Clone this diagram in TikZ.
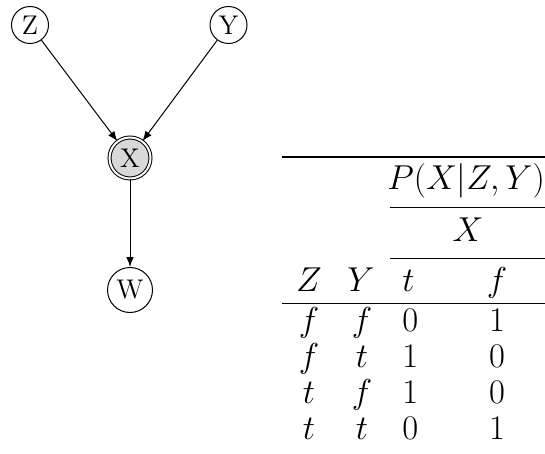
\documentclass[tikz,border=0pt]{standalone}
\usetikzlibrary{arrows.meta}
\begin{document}
\begin{tikzpicture}[x=0.5pt,y=-0.5pt,
  var/.style={circle,draw,line width=0.5pt,inner sep=0pt,minimum size=18.5pt,font=\fontsize{13.5}{16}\selectfont},
  obs/.style={var,fill=gray!30,double,double distance=1pt,minimum size=20.5pt},
  edge/.style={line width=0.5pt,-{Latex[length=5pt,width=3.8pt]}},
  cell/.style={anchor=base,inner sep=0pt,font=\fontsize{16.5}{20}\selectfont},
  lcell/.style={cell,anchor=base west},
  heavyrule/.style={line width=1.2pt},
  lightrule/.style={line width=0.6pt}]
\useasboundingbox (0,0) rectangle (545,454);
% graph
\node[var] (Z) at (30,25) {Z};
\node[var] (Y) at (228.5,25) {Y};
\node[obs] (X) at (130,158) {X};
\node[var,minimum size=22.5pt] (W) at (130,290) {W};
\draw[edge] (Z) -- (X);
\draw[edge] (Y) -- (X);
\draw[edge] (X) -- (W);
% table rules
\coordinate (tl) at (282,157);  \coordinate (tr) at (545,157);
\coordinate (c1l) at (390,207.5); \coordinate (c1r) at (545,207.5);
\coordinate (c2l) at (390,258.3); \coordinate (c2r) at (545,258.3);
\coordinate (ml) at (282,303.3); \coordinate (mr) at (545,303.3);
\coordinate (bl) at (282,455); \coordinate (br) at (545,455);
\draw[heavyrule] (tl) -- (tr);
\draw[lightrule] (c1l) -- (c1r);
\draw[lightrule] (c2l) -- (c2r);
\draw[line width=0.8pt] (ml) -- (mr);
\draw[line width=0.8pt,black!50] (bl) -- (br);
% table text
\node[cell] (hP) at (466,190) {$P(X|Z,Y)$};
\node[cell] (hX) at (468,241.7) {$X$};
\node[cell] (hZ) at (309,291.7) {$Z$};
\node[cell] (hY) at (361,291.7) {$Y$};
\node[lcell] (ht) at (402,291.7) {$t$};
\node[cell] (hf) at (497,291.7) {$f$};
\node[cell] (a1) at (309,331) {$f$};
\node[cell] (b1) at (362,331) {$f$};
\node[lcell] (c1) at (402,331) {$0$};
\node[cell] (d1) at (497,331) {$1$};
\node[cell] (a2) at (309,367) {$f$};
\node[cell] (b2) at (362,367) {$t$};
\node[lcell] (c2) at (402,367) {$1$};
\node[cell] (d2) at (497,367) {$0$};
\node[cell] (a3) at (309,403) {$t$};
\node[cell] (b3) at (362,403) {$f$};
\node[lcell] (c3) at (402,403) {$1$};
\node[cell] (d3) at (497,403) {$0$};
\node[cell] (a4) at (309,439) {$t$};
\node[cell] (b4) at (362,439) {$t$};
\node[lcell] (c4) at (402,439) {$0$};
\node[cell] (d4) at (497,439) {$1$};
\end{tikzpicture}
\end{document}
